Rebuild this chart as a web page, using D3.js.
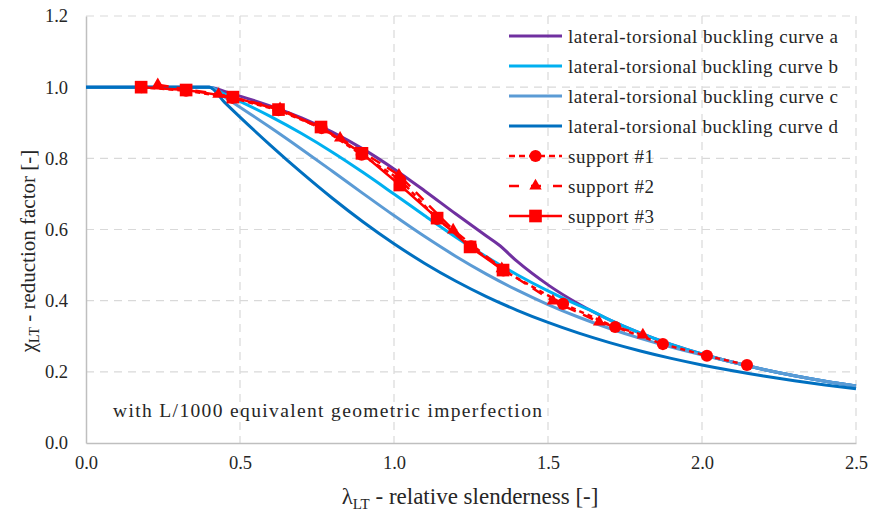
<!DOCTYPE html>
<html><head><meta charset="utf-8">
<script src="https://cdn.jsdelivr.net/npm/d3@7"></script>
<style>body{margin:0;background:#fff}svg{display:block}svg text{font-family:"Liberation Serif","Times New Roman",Times,"DejaVu Serif","Noto Serif",serif;fill:#262626}</style>
</head><body><svg id="c" width="869" height="519"></svg>
<script>
// ---- data ----
const lambdaCurve = [0, 0.4, 0.45, 0.5, 0.6, 0.7, 0.8, 0.9, 1.0, 1.1, 1.2, 1.3, 1.4, 1.5, 1.6, 1.7, 1.8, 1.9, 2.0, 2.1, 2.2, 2.3, 2.4, 2.5];
const curveA = [1, 1, 0.9878, 0.9749, 0.9466, 0.9134, 0.8736, 0.8259, 0.7702, 0.7084, 0.6442, 0.5816, 0.5102, 0.4444, 0.3906, 0.3460, 0.3086, 0.2770, 0.2500, 0.2268, 0.2066, 0.1890, 0.1736, 0.1600];
const curveB = [1, 1, 0.9804, 0.9602, 0.9171, 0.8696, 0.8171, 0.7600, 0.6997, 0.6386, 0.5792, 0.5236, 0.4728, 0.4273, 0.3868, 0.3460, 0.3086, 0.2770, 0.2500, 0.2268, 0.2066, 0.1890, 0.1736, 0.1600];
const curveC = [1, 1, 0.9721, 0.9438, 0.8859, 0.8257, 0.7637, 0.7009, 0.6391, 0.5800, 0.5249, 0.4746, 0.4294, 0.3891, 0.3534, 0.3219, 0.2940, 0.2693, 0.2474, 0.2268, 0.2066, 0.1890, 0.1736, 0.1600];
const curveD = [1, 1, 0.9574, 0.9160, 0.8359, 0.7597, 0.6878, 0.6210, 0.5599, 0.5047, 0.4553, 0.4115, 0.3729, 0.3388, 0.3087, 0.2822, 0.2587, 0.2379, 0.2194, 0.2029, 0.1881, 0.1749, 0.1630, 0.1522];
// extra knee points where curves a and b meet the 1/λ² limit
const kneeA = [1.34, 0.557];
const kneeB = [1.635, 0.3741];

const s1x = [0.18, 0.325, 0.475, 0.625, 0.765, 0.895, 1.02, 1.14, 1.25, 1.355, 1.549, 1.718, 1.873, 2.016, 2.146];
const s1y = [1.0, 0.99, 0.97, 0.935, 0.885, 0.81, 0.74, 0.63, 0.553, 0.485, 0.391, 0.326, 0.278, 0.245, 0.219];
const s2x = [0.233, 0.43, 0.63, 0.825, 1.016, 1.192, 1.35, 1.516, 1.666, 1.808];
const s2y = [1.007, 0.98, 0.94, 0.857, 0.753, 0.599, 0.49, 0.399, 0.340, 0.304];
const s3x = [0.179, 0.325, 0.477, 0.625, 0.763, 0.896, 1.019, 1.140, 1.247, 1.354];
const s3y = [1.0, 0.992, 0.972, 0.937, 0.888, 0.814, 0.725, 0.632, 0.551, 0.486];

const xTicks = [0, 0.5, 1.0, 1.5, 2.0, 2.5];
const yTicks = [0, 0.2, 0.4, 0.6, 0.8, 1.0, 1.2];

const curveNames = ["lateral-torsional buckling curve a","lateral-torsional buckling curve b","lateral-torsional buckling curve c","lateral-torsional buckling curve d"];
const supportNames = ["support #1","support #2","support #3"];
const annotation = "with L/1000 equivalent geometric imperfection";

// ---- chart ----
const FONT = '"Liberation Serif","Times New Roman",Times,"DejaVu Serif","Noto Serif",serif';
const svg = d3.select("#c").attr("font-family", FONT);
const L = 86, R = 856, T = 16, B = 443;
const x = d3.scaleLinear().domain([0, 2.5]).range([L, R]);
const y = d3.scaleLinear().domain([0, 1.2]).range([B, T]);

// grid
const grid = svg.append("g");
grid.selectAll("line.v").data(xTicks.slice(1)).join("line")
  .attr("x1", d => x(d)).attr("x2", d => x(d)).attr("y1", T).attr("y2", B)
  .attr("stroke", "#d9d9d9").attr("stroke-width", 1.2).attr("stroke-dasharray", "8,6");
grid.selectAll("line.h").data(yTicks.slice(1)).join("line")
  .attr("x1", L).attr("x2", R).attr("y1", d => y(d)).attr("y2", d => y(d))
  .attr("stroke", "#d9d9d9").attr("stroke-width", 1.2).attr("stroke-dasharray", "8,6");

// axes
const xAxis = d3.axisBottom(x).tickValues(xTicks).tickFormat(d3.format(".1f")).tickSize(0).tickPadding(13);
const yAxis = d3.axisLeft(y).tickValues(yTicks).tickFormat(d3.format(".1f")).tickSize(0).tickPadding(18);
const gx = svg.append("g").attr("transform", `translate(0,${B})`).call(xAxis);
const gy = svg.append("g").attr("transform", `translate(${L},0)`).call(yAxis);
[gx, gy].forEach(g => {
  g.attr("font-family", FONT).attr("font-size", 18.5);
  g.select(".domain").attr("stroke", "#bfbfbf").attr("stroke-width", 1.5);
  g.selectAll("text").attr("fill", "#262626");
});

// annotation
svg.append("text").attr("x", 113).attr("y", 417).attr("font-size", 19.5)
  .attr("textLength", 429).attr("lengthAdjust", "spacing").text(annotation);

// curves
const line = d3.line().x(d => x(d[0])).y(d => y(d[1])).curve(d3.curveMonotoneX);
function pts(xs, ys, knee) {
  const p = xs.map((v, i) => [v, ys[i]]);
  if (knee) { p.push(knee); p.sort((a, b) => a[0] - b[0]); }
  return p;
}
const curveColors = ["#7030A0", "#00B0F0", "#5B9BD5", "#0070C0"];
const curveData = [pts(lambdaCurve, curveA, kneeA), pts(lambdaCurve, curveB, kneeB), pts(lambdaCurve, curveC), pts(lambdaCurve, curveD)];
curveData.forEach((p, i) => {
  svg.append("path").datum(p).attr("d", line).attr("fill", "none")
    .attr("stroke", curveColors[i]).attr("stroke-width", 3);
});

// supports
const red = "#FF0000";
const lin = d3.line().x(d => x(d[0])).y(d => y(d[1]));
const supports = [
  {xs: s1x, ys: s1y, dash: "5,4", sym: d3.symbolCircle, size: 115},
  {xs: s2x, ys: s2y, dash: "11,8", sym: d3.symbolTriangle, size: 66},
  {xs: s3x, ys: s3y, dash: null, sym: d3.symbolSquare, size: 160}
];
supports.forEach(s => {
  const p = pts(s.xs, s.ys);
  svg.append("path").datum(p).attr("d", lin).attr("fill", "none")
    .attr("stroke", red).attr("stroke-width", 2.5).attr("stroke-dasharray", s.dash);
  svg.append("g").selectAll("path").data(p).join("path")
    .attr("transform", d => `translate(${x(d[0])},${y(d[1])})`)
    .attr("d", d3.symbol().type(s.sym).size(s.size)).attr("fill", red);
});

// legend
const lg = svg.append("g");
const ly0 = 36, ldy = 30, lx1 = 509, lx2 = 562, ltx = 568;
curveNames.forEach((n, i) => {
  const yy = ly0 + i * ldy;
  lg.append("line").attr("x1", lx1).attr("x2", lx2).attr("y1", yy).attr("y2", yy)
    .attr("stroke", curveColors[i]).attr("stroke-width", 3);
  lg.append("text").attr("x", ltx).attr("y", yy).attr("dy", "0.35em").attr("font-size", 19)
    .attr("textLength", 270).attr("lengthAdjust", "spacing").text(n);
});
supportNames.forEach((n, i) => {
  const yy = ly0 + (i + 4) * ldy;
  const s = supports[i];
  lg.append("line").attr("x1", lx1).attr("x2", lx2).attr("y1", yy).attr("y2", yy)
    .attr("stroke", red).attr("stroke-width", 2.5).attr("stroke-dasharray", i === 0 ? "6,4" : (i === 1 ? "10,12" : null));
  lg.append("path").attr("transform", `translate(${(lx1 + lx2) / 2},${yy})`)
    .attr("d", d3.symbol().type(s.sym).size(s.size)).attr("fill", red);
  lg.append("text").attr("x", ltx).attr("y", yy).attr("dy", "0.35em").attr("font-size", 19)
    .attr("textLength", 86).attr("lengthAdjust", "spacing").text(n);
});

// axis titles
const xt = svg.append("text").attr("x", 470).attr("y", 504).attr("text-anchor", "middle").attr("font-size", 23);
xt.append("tspan").text("λ");
xt.append("tspan").attr("font-size", 15).attr("dy", 5).text("LT");
xt.append("tspan").attr("dy", -5).text(" - relative slenderness [-]");

const yt = svg.append("text").attr("transform", "translate(35,251) rotate(-90)").attr("text-anchor", "middle").attr("font-size", 21);
yt.append("tspan").text("χ");
yt.append("tspan").attr("font-size", 14).attr("dy", 4).text("LT");
yt.append("tspan").attr("dy", -4).text(" - reduction factor [-]");
</script></body></html>
